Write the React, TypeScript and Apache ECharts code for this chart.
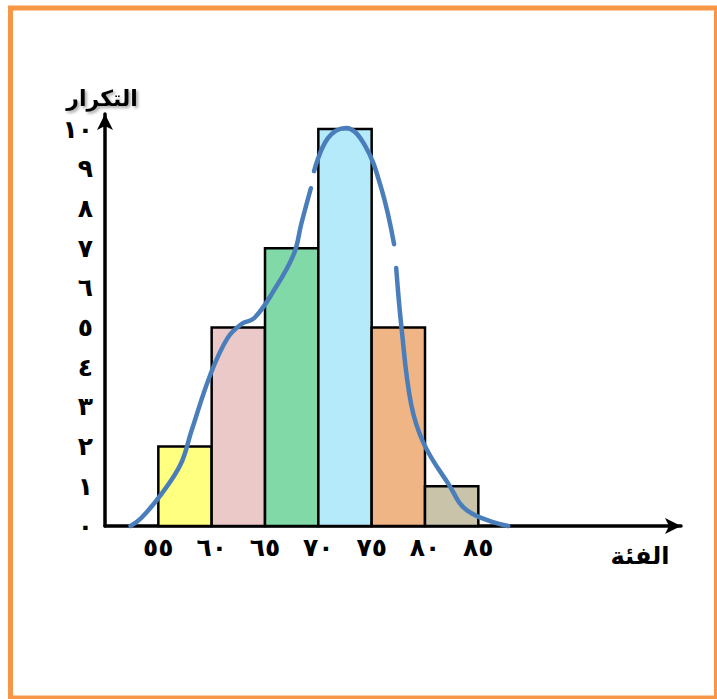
import React, { useEffect, useRef } from "react";
import * as echarts from "echarts";

// Histogram classes and frequencies
const classStart = [55, 60, 65, 70, 75, 80];
const classEnd = [60, 65, 70, 75, 80, 85];
const frequencies = [2, 5, 7, 10, 5, 1];
const barColors = ["#FFFF80", "#EBC9C9", "#80D9A6", "#B5EAFB", "#F0B584", "#C9C3AA"];

// Hand-drawn frequency curve (with two small breaks)
const curveX = [52.4, 53.4, 55.3, 57.1, 58.1, 59.9, 61.5, 62.8, 64.0, 65.8, 67.7, 68.4, 69.3, 69.45, 69.6, 70.9, 72.6, 74.3, 75.9, 77.1, 77.2, 77.3, 77.8, 78.7, 79.9, 82.2, 84.0, 87.8];
const curveY: (number | string)[] = [0, 0.2, 0.81, 1.56, 2.39, 3.83, 4.74, 5.09, 5.24, 5.92, 6.85, 7.61, 8.51, "-", 8.94, 9.77, 10.03, 9.62, 8.51, 7.1, "-", 6.5, 4.99, 3.07, 2.07, 1.06, 0.38, 0];

// Tick labels
const xTickValues = [55, 60, 65, 70, 75, 80, 85];
const xTickLabels = ["٥٥", "٦٠", "٦٥", "٧٠", "٧٥", "٨٠", "٨٥"];
const yTickLabels = ["٠", "١", "٢", "٣", "٤", "٥", "٦", "٧", "٨", "٩", "١٠"];

const yTitle = "التكرار";
const xTitle = "الفئة";

const FONT = "'DejaVu Sans', 'Noto Sans', sans-serif";

export default function App() {
  const ref = useRef<HTMLDivElement>(null);
  useEffect(() => {
    if (!ref.current) return;
    const chart = echarts.init(ref.current, undefined, { renderer: "svg" });
    const barData = classStart.map((s, i) => [s, classEnd[i], frequencies[i]]);
    const curveData = curveX.map((x, i) => [x, curveY[i]]);
    chart.setOption({
      animation: false,
      backgroundColor: "#ffffff",
      grid: { left: 105, top: 114, width: 576, height: 412 },
      xAxis: {
        type: "value",
        min: 50,
        max: 104,
        interval: 5,
        splitLine: { show: false },
        axisTick: { show: false },
        axisLine: {
          show: true,
          symbol: ["none", "arrow"],
          symbolSize: [12, 16],
          lineStyle: { color: "#000", width: 3.5 },
        },
        axisLabel: {
          margin: 9,
          fontSize: 25,
          fontWeight: "bold",
          fontFamily: FONT,
          color: "#000",
          showMaxLabel: false,
          formatter: (v: number) => {
            const idx = xTickValues.indexOf(Math.round(v * 100) / 100);
            return idx >= 0 ? xTickLabels[idx] : "";
          },
        },
      },
      yAxis: {
        type: "value",
        min: 0,
        max: 10.38,
        interval: 1,
        splitLine: { show: false },
        axisTick: { show: false },
        axisLine: {
          show: true,
          symbol: ["none", "arrow"],
          symbolSize: [12, 16],
          lineStyle: { color: "#000", width: 3.5 },
        },
        axisLabel: {
          margin: 12,
          fontSize: 25,
          fontWeight: "bold",
          fontFamily: FONT,
          color: "#000",
          showMaxLabel: false,
          formatter: (v: number) => {
            if (Math.abs(v - Math.round(v)) > 1e-6) return "";
            return yTickLabels[Math.round(v)] ?? "";
          },
        },
      },
      graphic: [
        {
          type: "rect",
          shape: { x: 10.5, y: 8, width: 706, height: 690 },
          style: { fill: "none", stroke: "#F79646", lineWidth: 5 },
          silent: true,
        },
        {
          type: "text",
          x: 102,
          y: 98,
          style: {
            text: yTitle,
            fontSize: 22,
            fontWeight: "bold",
            fontFamily: FONT,
            fill: "#000",
            align: "center",
            verticalAlign: "middle",
            textShadowColor: "rgba(0,0,0,0.35)",
            textShadowBlur: 3,
            textShadowOffsetX: 2,
            textShadowOffsetY: 2,
          },
        },
        {
          type: "text",
          x: 640,
          y: 556,
          style: {
            text: xTitle,
            fontSize: 24,
            fontWeight: "bold",
            fontFamily: FONT,
            fill: "#000",
            align: "center",
            verticalAlign: "middle",
          },
        },
      ],
      series: [
        {
          type: "custom",
          data: barData,
          encode: { x: [0, 1], y: 2 },
          renderItem: (params: any, api: any) => {
            const p0 = api.coord([api.value(0), 0]);
            const p1 = api.coord([api.value(1), api.value(2)]);
            return {
              type: "rect",
              shape: { x: p0[0], y: p1[1], width: p1[0] - p0[0], height: p0[1] - p1[1] },
              style: { fill: barColors[params.dataIndex], stroke: "#000", lineWidth: 2.5 },
            };
          },
          z: 2,
        },
        {
          type: "line",
          data: curveData,
          smooth: 0.4,
          symbol: "none",
          connectNulls: false,
          clip: false,
          lineStyle: { color: "#4A7EBB", width: 4.5, cap: "round", join: "round" },
          z: 5,
        },
      ],
    });
    return () => chart.dispose();
  }, []);
  return (
    <div
      ref={ref}
      style={{ position: "fixed", left: 0, top: 0, width: 717, height: 699, background: "#fff" }}
    />
  );
}
